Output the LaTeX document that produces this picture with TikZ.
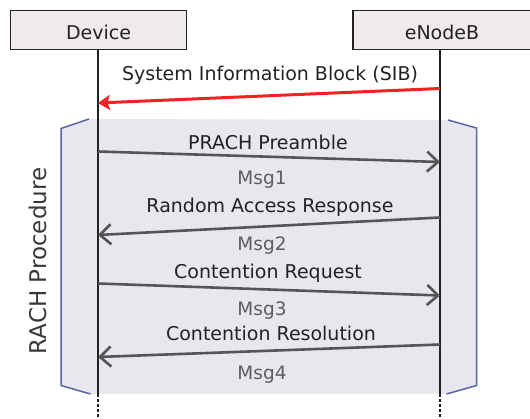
\documentclass[tikz,border=0pt]{standalone}
\usepackage{fontspec}
\setmainfont{DejaVu Sans}
\usetikzlibrary{arrows.meta}
\definecolor{boxfill}{HTML}{EFEBEA}
\definecolor{shadegrey}{HTML}{E7E7ED}
\definecolor{brk}{HTML}{5A64A8}
\definecolor{arr}{HTML}{555555}
\definecolor{msgc}{HTML}{5E5E5E}
\definecolor{sibred}{HTML}{F22222}
\definecolor{ink}{HTML}{222222}
\begin{document}
\begin{tikzpicture}[x=1pt,y=-1pt,
  actor/.style={draw=ink, line width=1.4pt, fill=boxfill, minimum width=176pt,
    minimum height=39pt, inner sep=0pt, text height=19.5pt, text depth=0pt,
    font=\fontsize{19}{22}\selectfont, text=ink},
  lifeline/.style={line width=2.6pt, ink},
  lifetail/.style={line width=2.6pt, ink, dash pattern=on 2.5pt off 2.5pt},
  msgarrow/.style={arr, line width=2.6pt, -{Straight Barb[length=11pt,width=20pt]}},
  sibarrow/.style={sibred, line width=3pt, -{Stealth[length=12pt,width=15pt,inset=2.5pt]}},
  lbl/.style={anchor=base, font=\fontsize{19}{22}\selectfont, text=ink, inner sep=0pt},
  msglbl/.style={anchor=base, font=\fontsize{18.5}{22}\selectfont, text=msgc, inner sep=0pt},
  bracket/.style={brk, line width=1.5pt},
]
\useasboundingbox (0,0) rectangle (530,419);

% shaded RACH region
\fill[shadegrey] (89,119) -- (61,128.5) -- (61,385.5) -- (90.5,394) -- (446.5,394)
  -- (476.5,385.5) -- (476.5,128) -- (448,120) -- cycle;

% brackets
\draw[bracket] (89,119) -- (61,128.5) -- (61,385.5) -- (90.5,394);
\draw[bracket] (448,120) -- (476.5,128) -- (476.5,385.5) -- (446.5,394);

% actors
\node[actor] (dev) at (98.5,30) {Device};
\node[actor, minimum width=178pt] (enb) at (442,30) {eNodeB};

% lifelines
\coordinate (dend) at (98,394);
\coordinate (dfoot) at (98,421);
\coordinate (eend) at (440,394);
\coordinate (efoot) at (440,421);
\draw[lifeline] (dev.south -| dend) -- (dend);
\draw[lifetail] (dend) -- (dfoot);
\draw[lifeline] (enb.south -| eend) -- (eend);
\draw[lifetail] (eend) -- (efoot);

% message end points
\coordinate (e0) at (440,88.5);  \coordinate (d0) at (98,103);
\coordinate (d1) at (98,151.5);  \coordinate (e1) at (440,162);
\coordinate (e2) at (440,217.5); \coordinate (d2) at (98,235);
\coordinate (d3) at (98,283.5);  \coordinate (e3) at (440,295.5);
\coordinate (e4) at (440,344.5); \coordinate (d4) at (98,357);

% messages
\draw[sibarrow] (e0) -- (d0);
\node[lbl] (sibl) at (270,80.5) {System Information Block (SIB)};

\draw[msgarrow] (d1) -- (e1);
\node[lbl] (m1l) at (268,150) {PRACH Preamble};
\node[msglbl] (m1) at (262,184.5) {Msg1};

\draw[msgarrow] (e2) -- (d2);
\node[lbl] (m2l) at (270,213) {Random Access Response};
\node[msglbl] (m2) at (262,251) {Msg2};

\draw[msgarrow] (d3) -- (e3);
\node[lbl] (m3l) at (268,279) {Contention Request};
\node[msglbl] (m3) at (262,316) {Msg3};

\draw[msgarrow] (e4) -- (d4);
\node[lbl] (m4l) at (271,340.5) {Contention Resolution};
\node[msglbl] (m4) at (262,379.5) {Msg4};

% procedure label
\node[rotate=90, font=\fontsize{23}{27}\selectfont, text=ink!90, inner sep=0pt] (rach)
  at (37.5,261) {RACH Procedure};
\end{tikzpicture}
\end{document}
